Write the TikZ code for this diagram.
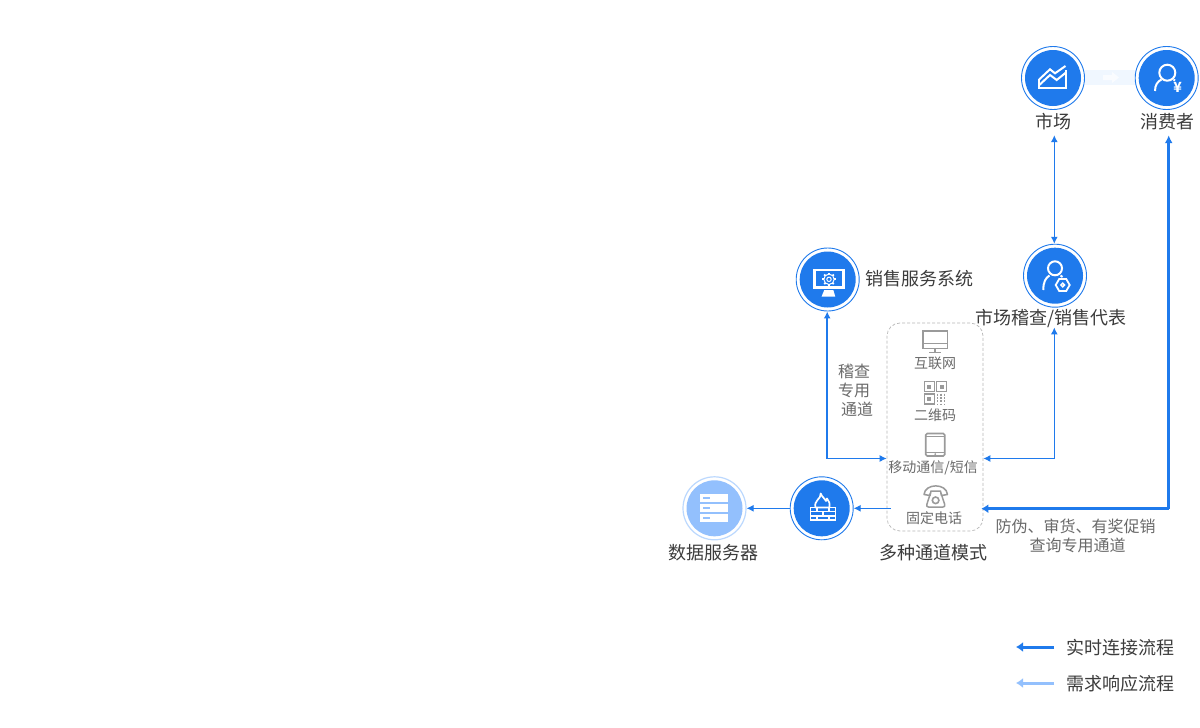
\documentclass[tikz,border=0pt]{standalone}
\usepackage{fontspec}
\setmainfont{Noto Sans CJK SC}
\usetikzlibrary{arrows.meta}
\definecolor{bluemain}{HTML}{1F7AEC}
\definecolor{bluelight}{HTML}{93C0FD}
\definecolor{bluering}{HTML}{BBD8FE}
\definecolor{txtdark}{HTML}{3C3C3C}
\definecolor{txtgray}{HTML}{6A6A6A}
\definecolor{iconcol}{HTML}{9A9A9A}
\newcommand{\fs}[1]{\fontsize{#1}{#1}\selectfont}
\tikzset{
  x=1pt,y=-1pt,
  hub/.style={circle,minimum size=63pt,inner sep=0pt,draw=bluemain,fill=white,line width=.9pt,
    path picture={\fill[bluemain] (path picture bounding box.center) circle (28pt);}},
  hublight/.style={circle,minimum size=63pt,inner sep=0pt,draw=bluering,fill=white,line width=1.2pt,
    path picture={\fill[bluelight] (path picture bounding box.center) circle (28pt);}},
  lbl/.style={text=txtdark,font=\fs{18},inner sep=0pt},
  sublbl/.style={text=txtgray,font=\fs{14},inner sep=0pt},
  midlbl/.style={text=txtgray,font=\fs{16},inner sep=0pt},
  thinline/.style={draw=bluemain,line width=1.1pt},
  medline/.style={draw=bluemain,line width=2pt},
  thickline/.style={draw=bluemain,line width=3pt},
  tip/.style={-{Latex[length=7pt,width=7pt]}},
  bitip/.style={{Latex[length=7pt,width=7pt]}-{Latex[length=7pt,width=7pt]}},
  whiteicon/.style={draw=white,line width=2pt,line join=miter},
  grayicon/.style={draw=iconcol,line width=1.6pt},
}
\begin{document}
\begin{tikzpicture}
\useasboundingbox[fill=white] (0,0) rectangle (1200,728);

% pale band between market and consumer
\fill[blue!50!cyan!6] (1085,70) rectangle (1136,85);
\fill[white,opacity=.7] (1103,75) -- (1112,75) -- (1112,72) -- (1119,77.5) -- (1112,83) -- (1112,80) -- (1103,80) -- cycle;

% hubs
\node[hub] (mkt) at (1053,78) {};
\node[hub] (cons) at (1166.7,78) {};
\node[hub] (sales) at (827.7,279.5) {};
\node[hub] (rep) at (1055,275.7) {};
\node[hub] (fw) at (821.7,508.3) {};
\node[hublight] (data) at (714.5,508.3) {};

% labels
\node[lbl,minimum height=26pt] (lmkt) at (1053.5,122) {市场};
\node[lbl,minimum height=26pt] (lcons) at (1167,122) {消费者};
\node[lbl,anchor=west] (lsales) at (865,279) {销售服务系统};
\node[lbl,minimum height=18pt] (lrep) at (1051.3,318) {市场稽查/销售代表};
\node[lbl] (lchan) at (933,553) {多种通道模式};
\node[lbl] (ldata) at (713,553) {数据服务器};
\node[midlbl,align=left] (lcheck) at (855.5,390.5) {稽查\\[3pt]专用\\[3pt]\hspace{3pt}通道};
\node[midlbl,align=center] (lanti) at (1075.5,536) {防伪、审货、有奖促销\\[3pt]\hspace{4pt}查询专用通道};

% channel box
\node[draw=iconcol!70,dashed,dash pattern=on 3pt off 2pt,line width=.7pt,rounded corners=13pt,
      minimum width=96pt,minimum height=208pt,inner sep=0pt] (box) at (935,427) {};
\node[sublbl] (t1) at (935,363.5) {互联网};
\node[sublbl] (t2) at (935,415.5) {二维码};
\node[sublbl] (t3) at (933,468) {移动通信/短信};
\node[sublbl] (t4) at (934,518.5) {固定电话};

% connectors
\coordinate (boxW) at (box.west |- 0,458.5);
\coordinate (boxE) at (box.east |- 0,458.5);
\coordinate (boxE2) at (box.east |- 0,508.7);
\coordinate (boxIn) at ([xshift=4pt]box.west |- 0,508.3);
\coordinate (csCorner) at (1168.7,508.7);
\coordinate (saCorner) at ([xshift=-.5pt]sales.south |- 0,458.5);
\coordinate (reCorner) at ([xshift=-.7pt]rep.south |- 0,458.5);

\draw[thinline,bitip] (lmkt.south -| reCorner) -- (reCorner |- rep.north);
\draw[thickline,-{Latex[length=8pt,width=8pt]}] (csCorner) -- (csCorner |- lcons.south);
\draw[thickline,-{Latex[length=7pt,width=9pt]}] (csCorner) -- ([xshift=-2pt]boxE2);
\draw[thinline,tip] (reCorner) -- (reCorner |- lrep.south);
\draw[thinline,tip] (reCorner) -- (boxE);
\draw[medline,-{Latex[length=7pt,width=7pt]}] (saCorner) -- (saCorner |- sales.south);
\draw[thinline,tip] (saCorner) -- (boxW);
\draw[thinline,tip] (boxIn) -- (fw.east);
\draw[thinline,tip] (fw.west) -- (data.east);

% market icon
\draw[whiteicon] (1039.3,79.3) -- (1050,69.3) -- (1055,73.3) -- (1065.5,66);
\draw[white,line width=2pt] (1039.3,79.3) -- (1039.3,88.3) -- (1066,88.3) -- (1066,70);
\draw[whiteicon] (1039.3,85) -- (1050,75) -- (1056.7,80) -- (1066,72.5);

% consumer icon
\draw[white,line width=2pt] (1167.3,72.7) circle (8);
\draw[white,line width=2pt] (1155,91) .. controls (1155,85) and (1157.5,81.5) .. (1161.5,79.5);
\draw[white,line width=2pt] (1173.5,79.5) -- (1175,80.5);
\node[text=white,font=\fs{14}\bfseries,inner sep=0pt] (yen) at (1177.7,87) {¥};

% sales icon
\draw[white,line width=2.2pt] (814.5,270) rectangle (843.5,287.5);
\fill[white] (824.3,290) -- (833.3,290) -- (835.3,296.7) -- (821.5,296.7) -- cycle;
\draw[white,line width=1pt] (829,279.3) circle (2.2);
\draw[white,line width=1pt] (829,279.3) circle (5.2);
\foreach \a in {0,45,...,315}
  \draw[white,line width=1.8pt] (829,279.3) ++(\a:5) -- ++(\a:1.8);

% representative icon
\draw[white,line width=2pt] (1055,268.3) circle (7);
\draw[white,line width=2pt] (1043.3,290) .. controls (1043.3,282) and (1045.5,278) .. (1049.5,275.5);
\draw[white,line width=2pt] (1060.5,275.5) -- (1062.5,277);
\draw[white,line width=1.8pt,fill=bluemain] (1069.7,285) -- (1066.2,291) -- (1059.2,291) -- (1055.7,285) -- (1059.2,279) -- (1066.2,279) -- cycle;
\draw[white,line width=1.5pt] (1062.7,285) circle (1.8);

% firewall icon
\draw[white,line width=1.7pt,line join=round]
  (820.7,493.5) .. controls (822,497.5) and (825,498) .. (826,501)
  .. controls (826.8,500) and (827,499.5) .. (827,498.5)
  .. controls (829.5,501) and (830,504) .. (829.5,507.5)
  -- (815.5,507.5)
  .. controls (814.5,504) and (816,502) .. (817.5,500)
  .. controls (819.5,498) and (820.7,496.5) .. (820.7,493.5) -- cycle;
\draw[white,line width=1.4pt] (810.5,507.7) rectangle (835.5,520);
\draw[white,line width=1.3pt] (810.5,511.8) -- (835.5,511.8) (810.5,515.9) -- (835.5,515.9);
\foreach \xx in {817,829}
  \draw[white,line width=1.3pt] (\xx,507.7) -- (\xx,511.8) (\xx,515.9) -- (\xx,520);
\foreach \xx in {823}
  \draw[white,line width=1.3pt] (\xx,511.8) -- (\xx,515.9);

% data icon
\foreach \yy in {494.3,504.2,514}{
  \fill[white] (700,\yy) rectangle (727.7,\yy+8);
  \fill[bluelight] (702.5,\yy+3) rectangle (710,\yy+4.6);
}

% monitor icon
\draw[grayicon] (922.9,330.9) rectangle (947.3,348.3);
\draw[grayicon] (922.9,343.3) -- (947.3,343.3);
\draw[grayicon] (935,348.3) -- (935,352.3);
\draw[grayicon] (929.3,352.3) -- (940.7,352.3);

% QR icon
\foreach \xa/\ya in {924.3/381.7,936.7/381.7,924.3/394}{
  \draw[grayicon,line width=1.4pt] (\xa,\ya) rectangle (\xa+10,\ya+10);
  \fill[iconcol] (\xa+3,\ya+3) rectangle (\xa+7,\ya+7);
}
\foreach \xa in {937.3,941,944.7}
  \draw[iconcol,line width=1.4pt,dash pattern=on 2pt off 1.3pt] (\xa,393.7) -- (\xa,404.5);

% tablet icon
\draw[grayicon,rounded corners=1.5pt] (925.7,433.5) rectangle (944.7,456);
\draw[iconcol,line width=1pt] (925.7,436.3) -- (944.7,436.3);
\draw[iconcol,line width=1pt] (925.7,452.3) -- (944.7,452.3);
\fill[iconcol] (935.2,454.2) circle (1);

% phone icon
\draw[grayicon,line width=1.5pt,line join=round] (924,494.5) .. controls (925,483) and (946.5,483) .. (947.5,494.5)
  -- (941.5,495.5) -- (940.5,491) -- (931,491) -- (930,495.5) -- cycle;
\draw[grayicon,line width=1.5pt,line join=round,rounded corners=2.5pt] (930.5,493) -- (926,507) -- (945.5,507) -- (941,493);
\draw[grayicon,line width=1.6pt] (935.6,500.3) circle (3.3);

% legend
\node[lbl,anchor=west] (leg1) at (1066,648) {实时连接流程};
\node[lbl,anchor=west] (leg2) at (1066,684) {需求响应流程};
\coordinate (a1) at (1054,647);
\coordinate (a2) at (1054,683);
\draw[thickline,-{Latex[length=7pt,width=10pt]}] (a1) -- ++(-38,0);
\draw[draw=bluelight,line width=3pt,-{Latex[length=7pt,width=10pt]}] (a2) -- ++(-38,0);
\end{tikzpicture}
\end{document}
